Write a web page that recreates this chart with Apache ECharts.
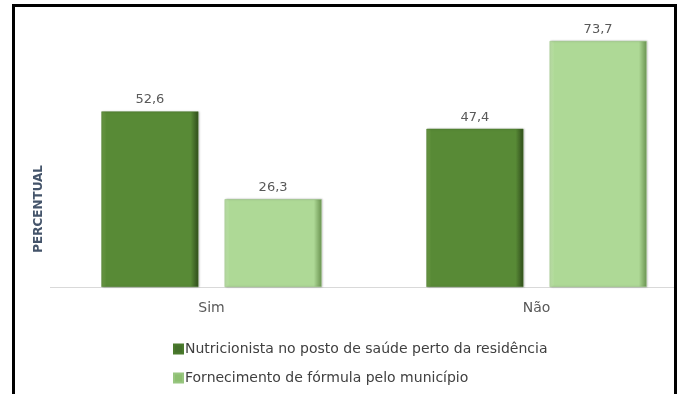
<!DOCTYPE html>
<html><head><meta charset="utf-8">
<script src="https://cdn.jsdelivr.net/npm/echarts@6/dist/echarts.min.js"></script>
<style>html,body{margin:0;padding:0;background:#fff}#c{width:683px;height:394px}</style>
</head><body><div id="c"></div>
<script>
const categories = ['Sim', 'Não'];
const seriesNames = ['Nutricionista no posto de saúde perto da residência', 'Fornecimento de fórmula pelo município'];
const nutricionista = [52.6, 47.4];
const formula = [26.3, 73.7];
const yMax = 80;

function grad(light, main, dark) {
  return {type:'linear', x:0, y:0, x2:1, y2:0, colorStops:[
    {offset:0, color:light},{offset:0.05, color:main},{offset:0.92, color:main},{offset:1, color:dark}]};
}
const darkColor = grad('#6f9e48', '#588a36', '#2f4c1b');
const lightColor = grad('#c3e5ae', '#aed996', '#6a9350');

const chart = echarts.init(document.getElementById('c'), null, {renderer:'canvas'});
const labelStyle = {show:true, position:'top', distance:5, formatter: p => String(p.value).replace('.', ','),
  color:'#595959', fontSize:13, fontFamily:'DejaVu Sans'};
chart.setOption({
  animation:false,
  grid:{left:49, width:650, top:20, height:267, outerBoundsMode:'none', containLabel:false},
  xAxis:{type:'category', data:categories, axisLine:{show:false}, axisTick:{show:false},
    axisLabel:{color:'#595959', fontSize:14, fontFamily:'DejaVu Sans', margin:14}},
  yAxis:{type:'value', min:0, max:yMax, show:false},
  legend:{orient:'vertical', left:168, top:337, itemGap:15, itemWidth:9, itemHeight:9, icon:'rect',
    textStyle:{color:'#404040', fontSize:14, fontFamily:'DejaVu Sans', padding:[0,0,0,-3]},
    data:[{name:seriesNames[0], itemStyle:{color:'#44702a'}}, {name:seriesNames[1], itemStyle:{color:'#8dbf70'}}]},
  series:[
    {name:seriesNames[0], type:'bar', data:nutricionista, barWidth:97, barGap:'27%',
      itemStyle:{color:darkColor, borderColor:'#4a7a2c', borderWidth:0.5, shadowColor:'rgba(0,0,0,0.25)', shadowBlur:2, shadowOffsetX:1},
      label:labelStyle},
    {name:seriesNames[1], type:'bar', data:formula, barWidth:97,
      itemStyle:{color:lightColor, borderColor:'#98c680', borderWidth:0.5, shadowColor:'rgba(0,0,0,0.25)', shadowBlur:2, shadowOffsetX:1},
      label:labelStyle}
  ],
  graphic:[
    {type:'line', shape:{x1:50, y1:287.5, x2:674, y2:287.5}, style:{stroke:'#d9d9d9', lineWidth:1}, z:1},
    {type:'text', left:33, top:165, rotation:Math.PI/2, style:{text:'PERCENTUAL', fill:'#44546a', font:'bold 12px "DejaVu Sans"'}},
    {type:'rect', shape:{x:13.5, y:5.5, width:662, height:400}, style:{fill:'none', stroke:'#000', lineWidth:3}, z:100}
  ]
});
</script></body></html>
